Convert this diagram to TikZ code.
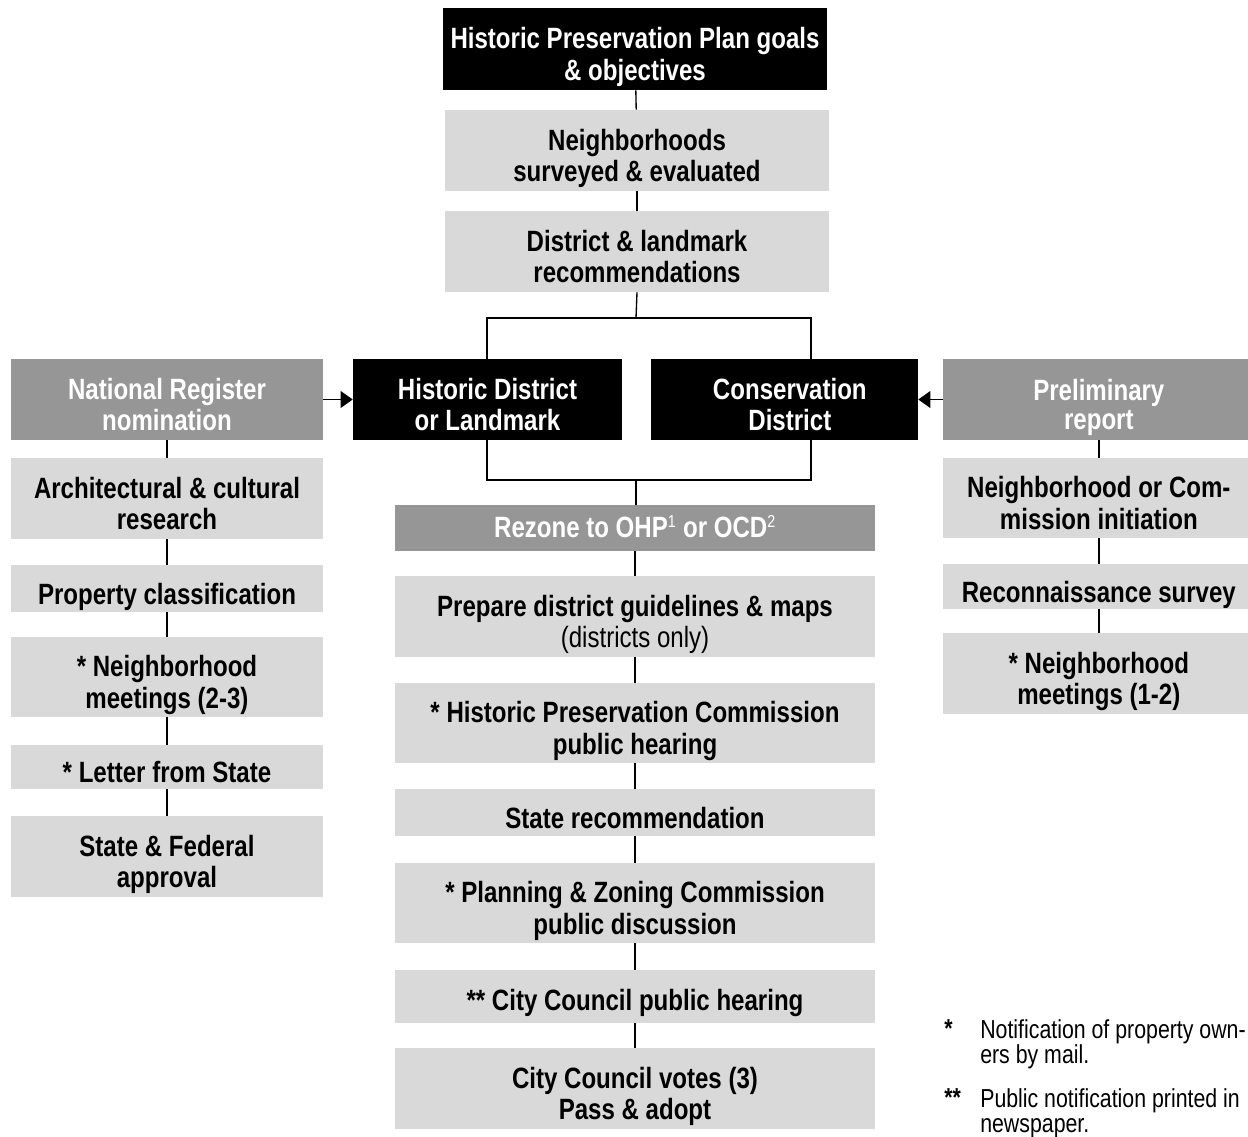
\documentclass[tikz,border=0pt]{standalone}
\usepackage{fontspec}
\setmainfont{Liberation Sans}[FakeStretch=0.82]
\usetikzlibrary{arrows.meta}
\definecolor{lg}{RGB}{217,217,217}
\definecolor{dg}{RGB}{150,150,150}
% #1 box style, #2 name, #3 centre, #4 width px, #5 height px, #6 text options, #7 text
\newcommand\mybox[7]{%
  \node[#1, minimum width=#4*0.75pt, minimum height=#5*0.75pt] (#2) at (#3) {};
  \node[txt, #6] (#2-t) at (#2.center) {#7};}
\newcommand\mysup[1]{\textsuperscript{\fontsize{13}{13}\selectfont\mdseries #1}}
\begin{document}
\begin{tikzpicture}[x=0.75pt,y=-0.75pt,
 lbox/.style={inner sep=0pt, fill=lg},
 dbox/.style={inner sep=0pt, fill=dg},
 kbox/.style={inner sep=0pt, fill=black},
 txt/.style={inner sep=0pt, align=center, yshift=-7pt, font=\fontsize{22}{22}\selectfont\bfseries},
 wt/.style={text=white},
 bt/.style={text=black},
 conn/.style={line width=1pt, draw=black},
 arr/.style={conn, -{Triangle[length=9pt,width=12.5pt]}},
 note/.style={inner sep=0pt, align=left, anchor=north west, font=\fontsize{19.5}{18.75}\selectfont}
]
\useasboundingbox (0,0) rectangle (1248,1137);
% centre column
\mybox{kbox}{top}{635,49}{384}{82}{wt}{\strut Historic Preservation Plan goals\\\strut\& objectives}
\mybox{lbox}{surv}{637,150.5}{384}{81}{bt}{\strut Neighborhoods\\\strut surveyed \& evaluated}
\mybox{lbox}{rec}{637,251.5}{384}{81}{bt}{\strut District \& landmark\\\strut recommendations}
\mybox{kbox}{hd}{487.5,399.5}{269}{81}{wt}{\strut Historic District\\\strut or Landmark}
\mybox{kbox}{cd}{784.5,399.5}{267}{81}{wt, xshift=4pt}{\strut Conservation\\\strut District}
\mybox{dbox}{nr}{167,399.5}{312}{81}{wt}{\strut National Register\\\strut nomination}
\mybox{dbox}{pr}{1095.5,399.5}{305}{81}{wt, xshift=2.5pt}{\strut Preliminary\\\strut report}
\mybox{dbox}{rez}{635,528}{480}{46}{wt, yshift=5pt}{\strut Rezone to OHP\mysup{1} or OCD\mysup{2}}
\mybox{lbox}{prep}{635,616.5}{480}{81}{bt}{\strut Prepare district guidelines \& maps\\\strut{\mdseries (districts only)}}
\mybox{lbox}{hpc}{635,723}{480}{80}{bt}{\strut * Historic Preservation Commission\\\strut public hearing}
\mybox{lbox}{sr}{635,812.5}{480}{47}{bt}{\strut State recommendation}
\mybox{lbox}{pz}{635,903}{480}{80}{bt}{\strut * Planning \& Zoning Commission\\\strut public discussion}
\mybox{lbox}{cc}{635,996.5}{480}{53}{bt, yshift=1.5pt}{\strut ** City Council public hearing}
\mybox{lbox}{vote}{635,1088.5}{480}{81}{bt}{\strut City Council votes (3)\\\strut Pass \& adopt}
% left column
\mybox{lbox}{arch}{167,498.5}{312}{81}{bt}{\strut Architectural \& cultural\\\strut research}
\mybox{lbox}{prop}{167,588.5}{312}{47}{bt}{\strut Property classification}
\mybox{lbox}{nm}{167,677}{312}{80}{bt}{\strut * Neighborhood\\\strut meetings (2-3)}
\mybox{lbox}{let}{167,767}{312}{44}{bt}{\strut * Letter from State}
\mybox{lbox}{sf}{167,856.5}{312}{81}{bt}{\strut State \& Federal\\\strut approval}
% right column
\mybox{lbox}{nci}{1095.5,498}{305}{80}{bt, xshift=2.5pt}{\strut Neighborhood or Com-\\\strut mission initiation}
\mybox{lbox}{recon}{1095.5,586.5}{305}{45}{bt, xshift=2.5pt}{\strut Reconnaissance survey}
\mybox{lbox}{nm2}{1095.5,673.5}{305}{81}{bt, xshift=2.5pt}{\strut * Neighborhood\\\strut meetings (1-2)}
% connectors
\coordinate (j1) at (636,318);
\coordinate (jL) at (487,318);
\coordinate (jR) at (811,318);
\coordinate (k1) at (636,480);
\coordinate (kL) at (487,480);
\coordinate (kR) at (811,480);
\coordinate (rc) at (1099,0);
\draw[conn] (top) -- (surv);
\draw[conn] (surv) -- (rec);
\draw[conn] (rec.south) -- (j1);
\draw[conn] (jL |- hd.north) -- (jL) -- (jR) -- (jR |- cd.north);
\draw[conn] (kL |- hd.south) -- (kL) -- (kR) -- (kR |- cd.south);
\draw[conn] (k1) -- (k1 |- rez.north);
\draw[conn] (rez) -- (prep);
\draw[conn] (prep) -- (hpc);
\draw[conn] (hpc) -- (sr);
\draw[conn] (sr) -- (pz);
\draw[conn] (pz) -- (cc);
\draw[conn] (cc) -- (vote);
\draw[conn] (nr) -- (arch);
\draw[conn] (arch) -- (prop);
\draw[conn] (prop) -- (nm);
\draw[conn] (nm) -- (let);
\draw[conn] (let) -- (sf);
\draw[conn] (pr.south -| rc) -- (nci.north -| rc);
\draw[conn] (nci.south -| rc) -- (recon.north -| rc);
\draw[conn] (recon.south -| rc) -- (nm2.north -| rc);
\draw[arr] (nr.east) -- (hd.west);
\draw[arr] (pr.west) -- (cd.east);
% footnotes
\node[note, font=\fontsize{19.5}{18.75}\selectfont\bfseries] (s1) at (944,1019) {*};
\node[note] (f1) at (980,1019) {Notification of property own-\\ers by mail.};
\node[note, font=\fontsize{19.5}{18.75}\selectfont\bfseries] (s2) at (944,1088) {**};
\node[note] (f2) at (980,1088) {Public notification printed in\\newspaper.};
\end{tikzpicture}
\end{document}
